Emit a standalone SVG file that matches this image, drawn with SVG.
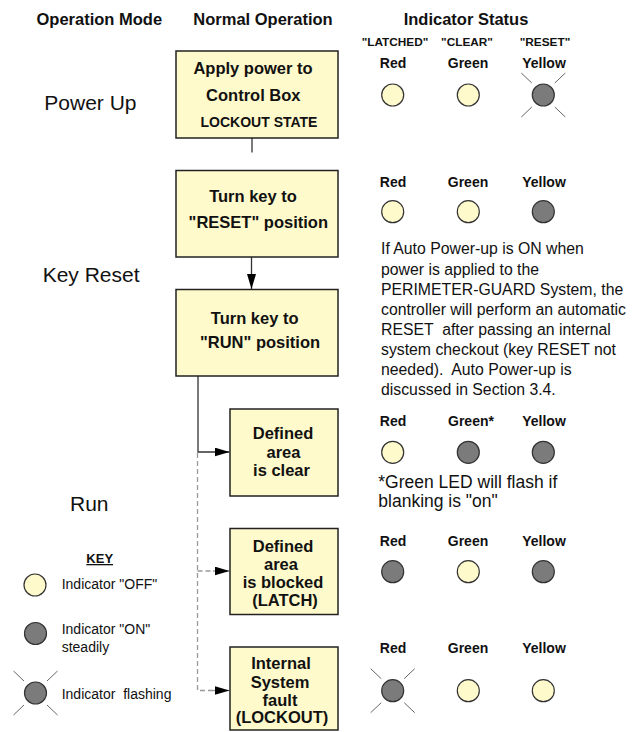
<svg xmlns="http://www.w3.org/2000/svg" xmlns:xlink="http://www.w3.org/1999/xlink" width="634" height="732" viewBox="0 0 634 732">
<defs>
<marker id="ah" markerWidth="16" markerHeight="10" refX="15" refY="4.5" orient="auto" markerUnits="userSpaceOnUse"><path d="M0,0 L15,4.5 L0,9 Z" fill="#000"/></marker>
<g id="fl">
<line class="ray" x1="-22" y1="-22" x2="-11.5" y2="-12"/>
<line class="ray" x1="22" y1="-22" x2="11.5" y2="-12"/>
<line class="ray" x1="-22" y1="22" x2="-11.5" y2="12"/>
<line class="ray" x1="22" y1="22" x2="11.5" y2="12"/>
</g>
</defs>
<style>
text{font-family:"Liberation Sans",Arial,Helvetica,sans-serif;fill:#111}
.h{font-size:16.5px;font-weight:bold;text-anchor:middle}
.mode{font-size:21px}
.bt{font-size:16.5px;font-weight:bold;text-anchor:middle}
.sm{font-size:14px;font-weight:bold;text-anchor:middle}
.lbl{font-size:14px;font-weight:bold;text-anchor:middle}
.q{font-size:11.8px;font-weight:bold;text-anchor:middle}
.box{fill:#FFFACB;stroke:#222;stroke-width:1.5}
.off{fill:#FFFACB;stroke:#333;stroke-width:1.2}
.on{fill:#7b7b7b;stroke:#333;stroke-width:1.2}
.ray{stroke:#666;stroke-width:1}
.para{font-size:15.8px;white-space:pre}
.foot{font-size:17.5px}
.key{font-size:14px;white-space:pre}
.conn{stroke:#333;stroke-width:1.3;fill:none}
.dash{stroke:#999;stroke-width:1.3;fill:none;stroke-dasharray:5 3}
</style>
<rect width="634" height="732" fill="#fff"/>

<g id="headers">
<text class="h" x="99.3" y="25">Operation Mode</text>
<text class="h" x="263" y="25">Normal Operation</text>
<text class="h" x="466" y="25">Indicator Status</text>
<text class="q" x="395" y="46">"LATCHED"</text>
<text class="q" x="467" y="46">"CLEAR"</text>
<text class="q" x="545" y="46">"RESET"</text>
</g>

<g id="modes">
<text class="mode" x="44.3" y="110">Power Up</text>
<text class="mode" x="42.7" y="281.7">Key Reset</text>
<text class="mode" x="70" y="511">Run</text>
</g>

<g id="connectors">
<line class="conn" x1="252" y1="138" x2="252" y2="152.5"/>
<line class="conn" x1="251.5" y1="257" x2="251.5" y2="289" marker-end="url(#ah)"/>
<polyline class="conn" points="198,376 198,452 229.5,452" marker-end="url(#ah)"/>
<polyline class="dash" points="197.5,453 197.5,690.5 214,690.5"/>
<polyline class="dash" points="197.5,571 214,571"/>
<line x1="213" y1="571" x2="229.5" y2="571" stroke="#999" stroke-width="1.3" marker-end="url(#ah)"/>
<line x1="213" y1="690.5" x2="229.5" y2="690.5" stroke="#999" stroke-width="1.3" marker-end="url(#ah)"/>
</g>

<g id="box-power">
<rect class="box" x="176" y="51" width="162" height="87"/>
<text class="bt" x="253" y="74">Apply power to</text>
<text class="bt" x="253.3" y="101">Control Box</text>
<text class="sm" x="259" y="126.7">LOCKOUT STATE</text>
</g>

<g id="box-reset">
<rect class="box" x="176" y="170.5" width="162" height="86.5"/>
<text class="bt" x="253" y="201.7">Turn key to</text>
<text class="bt" x="258.3" y="228.3">"RESET" position</text>
</g>

<g id="box-run">
<rect class="box" x="176" y="289.5" width="162" height="86.5"/>
<text class="bt" x="254.7" y="324">Turn key to</text>
<text class="bt" x="260" y="348.3">"RUN" position</text>
</g>

<g id="box-clear">
<rect class="box" x="230" y="409" width="108" height="87"/>
<text class="bt" x="283" y="439">Defined</text>
<text class="bt" x="283.5" y="457.5">area</text>
<text class="bt" x="281.5" y="475.7">is clear</text>
</g>

<g id="box-blocked">
<rect class="box" x="230" y="528.5" width="108" height="86"/>
<text class="bt" x="283" y="552">Defined</text>
<text class="bt" x="281" y="570">area</text>
<text class="bt" x="283" y="588">is blocked</text>
<text class="bt" x="285" y="606">(LATCH)</text>
</g>

<g id="box-fault">
<rect class="box" x="230" y="647" width="108" height="83"/>
<text class="bt" x="281" y="669">Internal</text>
<text class="bt" x="280" y="687.5">System</text>
<text class="bt" x="280" y="705.5">fault</text>
<text class="bt" x="282" y="723">(LOCKOUT)</text>
</g>

<g id="ind-powerup">
<text class="lbl" x="393" y="68.3">Red</text>
<text class="lbl" x="468" y="68.3">Green</text>
<text class="lbl" x="544" y="68.3">Yellow</text>
<circle class="off" cx="392.7" cy="95" r="11"/>
<circle class="off" cx="468.3" cy="95" r="11"/>
<circle class="on" cx="543.3" cy="95" r="11"/>
<use xlink:href="#fl" x="543.3" y="95"/>
</g>

<g id="ind-reset">
<text class="lbl" x="393" y="187">Red</text>
<text class="lbl" x="468" y="187">Green</text>
<text class="lbl" x="544" y="187">Yellow</text>
<circle class="off" cx="392.7" cy="211.7" r="11"/>
<circle class="off" cx="468.3" cy="211.7" r="11"/>
<circle class="on" cx="543.3" cy="211.7" r="11"/>
</g>

<g id="note-autopower">
<text class="para" x="381" y="254.3">If Auto Power-up is ON when</text>
<text class="para" x="381" y="274.6">power is applied to the</text>
<text class="para" x="381" y="294.9">PERIMETER-GUARD System, the</text>
<text class="para" x="381" y="315.1">controller will perform an automatic</text>
<text class="para" x="381" y="335.2">RESET  after passing an internal</text>
<text class="para" x="381" y="355.3">system checkout (key RESET not</text>
<text class="para" x="381" y="375.4">needed).  Auto Power-up is</text>
<text class="para" x="381" y="395.4">discussed in Section 3.4.</text>
</g>

<g id="ind-clear">
<text class="lbl" x="393" y="426">Red</text>
<text class="lbl" x="471" y="426">Green*</text>
<text class="lbl" x="544" y="426">Yellow</text>
<circle class="off" cx="392.7" cy="452.3" r="11"/>
<circle class="on" cx="468.3" cy="452.3" r="11"/>
<circle class="on" cx="543.3" cy="452.3" r="11"/>
<text class="foot" x="378.3" y="488.3">*Green LED will flash if</text>
<text class="foot" x="378.3" y="506.7">blanking is "on"</text>
</g>

<g id="ind-blocked">
<text class="lbl" x="393" y="546">Red</text>
<text class="lbl" x="468" y="546">Green</text>
<text class="lbl" x="544" y="546">Yellow</text>
<circle class="on" cx="392.7" cy="571.7" r="11"/>
<circle class="off" cx="468.3" cy="571.7" r="11"/>
<circle class="on" cx="543.3" cy="571.7" r="11"/>
</g>

<g id="ind-fault">
<text class="lbl" x="393" y="653.3">Red</text>
<text class="lbl" x="468" y="653.3">Green</text>
<text class="lbl" x="544" y="653.3">Yellow</text>
<circle class="on" cx="392.7" cy="690.7" r="11"/>
<use xlink:href="#fl" x="392.7" y="690.7"/>
<circle class="off" cx="468.3" cy="690.7" r="11"/>
<circle class="off" cx="543.3" cy="690.7" r="11"/>
</g>

<g id="key">
<text x="99.7" y="563" style="font-size:13px;font-weight:bold;text-anchor:middle;text-decoration:underline">KEY</text>
<circle class="off" cx="35" cy="585" r="11"/>
<text class="key" x="61.7" y="589">Indicator "OFF"</text>
<circle class="on" cx="35.5" cy="633.5" r="11"/>
<text class="key" x="61.7" y="634">Indicator "ON"</text>
<text class="key" x="61.7" y="651.5">steadily</text>
<circle class="on" cx="35.5" cy="693" r="11"/>
<use xlink:href="#fl" x="35.5" y="693"/>
<text class="key" x="61.7" y="699">Indicator  flashing</text>
</g>
</svg>
